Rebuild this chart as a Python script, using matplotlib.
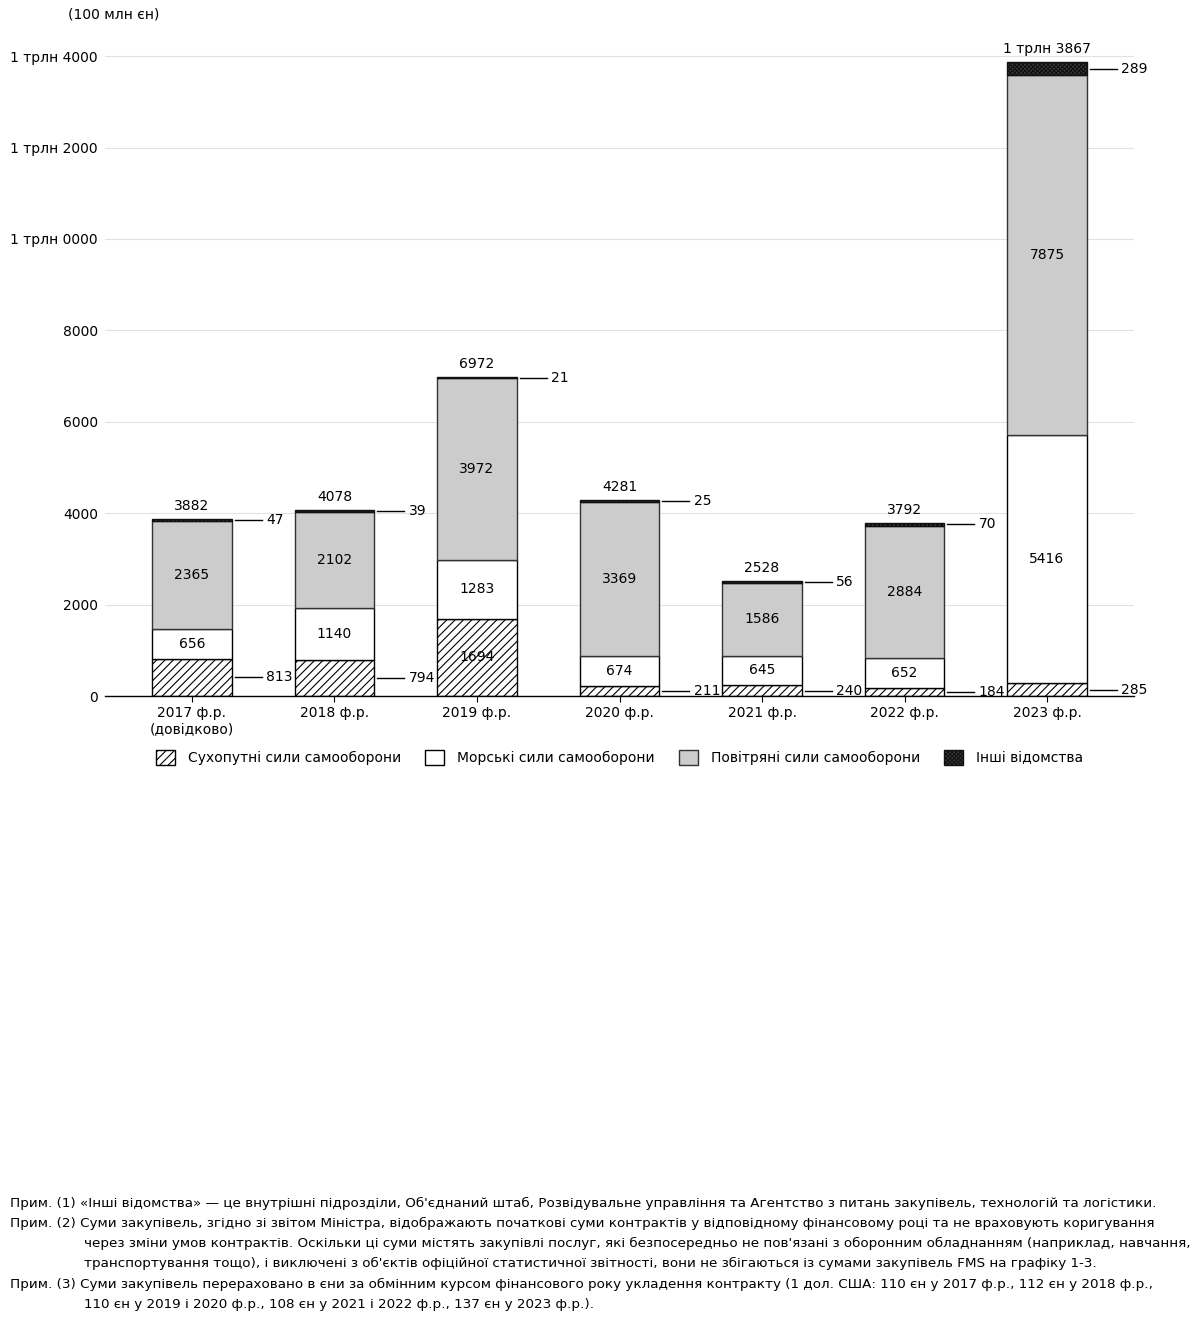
import numpy as np
import matplotlib
matplotlib.use('Agg')
import matplotlib.pyplot as plt

plt.rcParams['font.family'] = ['DejaVu Sans']
plt.rcParams['hatch.linewidth'] = 0.8

### Data (100 млн єн)
years = ['2017 ф.р.\n(довідково)', '2018 ф.р.', '2019 ф.р.', '2020 ф.р.',
         '2021 ф.р.', '2022 ф.р.', '2023 ф.р.']
ground = [813, 794, 1694, 211, 240, 184, 285]
maritime = [656, 1140, 1283, 674, 645, 652, 5416]
air = [2365, 2102, 3972, 3369, 1586, 2884, 7875]
others = [47, 39, 21, 25, 56, 70, 289]
totals = [3882, 4078, 6972, 4281, 2528, 3792, 13867]
series_names = ['Сухопутні сили самооборони', 'Морські сили самооборони',
                'Повітряні сили самооборони', 'Інші відомства']
yticks = [0, 2000, 4000, 6000, 8000, 10000, 12000, 14000]

notes = [
    ('Прим. (1) «Інші відомства» — це внутрішні підрозділи, Об\'єднаний штаб, Розвідувальне управління та Агентство з питань закупівель, технологій та логістики.', 0),
    ('Прим. (2) Суми закупівель, згідно зі звітом Міністра, відображають початкові суми контрактів у відповідному фінансовому році та не враховують коригування', 0),
    ('через зміни умов контрактів. Оскільки ці суми містять закупівлі послуг, які безпосередньо не пов\'язані з оборонним обладнанням (наприклад, навчання,', 1),
    ('транспортування тощо), і виключені з об\'єктів офіційної статистичної звітності, вони не збігаються із сумами закупівель FMS на графіку 1-3.', 1),
    ('Прим. (3) Суми закупівель перераховано в єни за обмінним курсом фінансового року укладення контракту (1 дол. США: 110 єн у 2017 ф.р., 112 єн у 2018 ф.р.,', 0),
    ('110 єн у 2019 і 2020 ф.р., 108 єн у 2021 і 2022 ф.р., 137 єн у 2023 ф.р.).', 1),
]


def fmt_val(v):
    if v >= 10000:
        return f'1 трлн {v - 10000:04d}'
    return f'{v}'


### Charting
fig = plt.figure(figsize=(12, 13.2), dpi=100)
ax = fig.add_axes([0.0875, 0.4727, 0.8575, 0.4952])

x = np.arange(len(years))
w = 0.56
fs = 10

g = np.array(ground)
m = np.array(maritime)
a = np.array(air)
o = np.array(others)

b1 = ax.bar(x, g, w, color='white', edgecolor='black', hatch='////', lw=1, label=series_names[0])
b2 = ax.bar(x, m, w, bottom=g, color='white', edgecolor='black', lw=1, label=series_names[1])
b3 = ax.bar(x, a, w, bottom=g + m, color='#cccccc', edgecolor='#333333', lw=1, label=series_names[2])
b4 = ax.bar(x, o, w, bottom=g + m + a, color='#3a3a3a', edgecolor='#111111', hatch='xxxxxxxx', lw=1, label=series_names[3])

# labels inside bars
for i in range(len(x)):
    ax.text(x[i], g[i] + m[i] / 2, f'{m[i]}', ha='center', va='center', fontsize=fs)
    ax.text(x[i], g[i] + m[i] + a[i] / 2, f'{a[i]}', ha='center', va='center', fontsize=fs)
    if g[i] > 1000:
        ax.text(x[i], g[i] / 2, f'{g[i]}', ha='center', va='center', fontsize=fs)
    else:
        yy = g[i] / 2
        ax.plot([x[i] + 0.30, x[i] + 0.49], [yy, yy], color='black', lw=1)
        ax.text(x[i] + 0.52, yy, f'{g[i]}', ha='left', va='center', fontsize=fs)
    yy = g[i] + m[i] + a[i] + o[i] / 2
    ax.plot([x[i] + 0.30, x[i] + 0.49], [yy, yy], color='black', lw=1)
    ax.text(x[i] + 0.52, yy, f'{o[i]}', ha='left', va='center', fontsize=fs)
    ax.text(x[i], g[i] + m[i] + a[i] + o[i] + 130, fmt_val(totals[i]),
            ha='center', va='bottom', fontsize=fs)

ax.set_xlim(-0.61, 6.61)
ax.set_ylim(0, 14300)
ax.set_yticks(yticks)
ax.set_yticklabels([fmt_val(v) for v in yticks], fontsize=fs)
ax.set_xticks(x)
ax.set_xticklabels(years, fontsize=fs)
ax.tick_params(axis='y', length=0, pad=5)
ax.tick_params(axis='x', length=4, pad=3)
ax.grid(axis='y', color='#e2e2e2', lw=0.8)
ax.set_axisbelow(True)
for s in ['left', 'top', 'right']:
    ax.spines[s].set_visible(False)
ax.spines['bottom'].set_linewidth(1)

fig.text(68 / 1200, 1 - 15 / 1320, '(100 млн єн)', ha='left', va='center', fontsize=fs)

ax.legend(handles=[b1, b2, b3, b4], loc='center', bbox_to_anchor=(0.5, -0.094),
          ncol=4, frameon=False, fontsize=fs, handlelength=1.4, handleheight=1.25,
          columnspacing=1.7, handletextpad=0.93)

for k, (txt, indent) in enumerate(notes):
    xx = 10 / 1200 if indent == 0 else 84 / 1200
    yy = 1 - (1203 + k * 20.3) / 1320
    fig.text(xx, yy, txt, ha='left', va='center', fontsize=9.7)

plt.savefig('out.png', dpi=100)
